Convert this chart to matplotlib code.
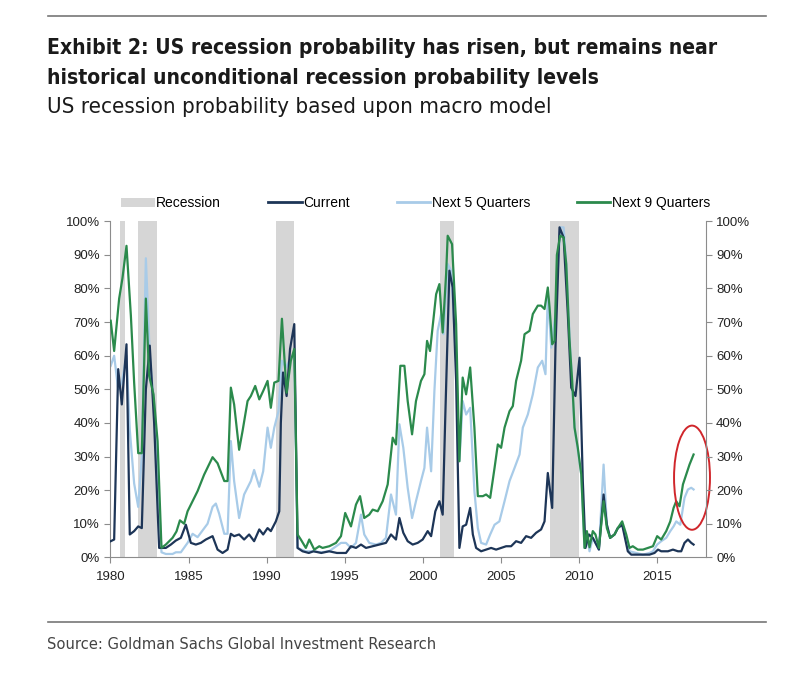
import matplotlib
matplotlib.use("Agg")
import matplotlib.pyplot as plt
from matplotlib.patches import Patch, Ellipse
from matplotlib.lines import Line2D

# recession shading (start, end) in fractional years, as drawn in the chart
recessions = [(1980.6, 1980.94), (1981.76, 1982.97), (1990.62, 1991.75),
              (2001.12, 2001.98), (2008.12, 2010.0)]

# Next 9 Quarters
yrs_9q = [1980.02, 1980.24, 1980.56, 1980.77, 1981.03, 1981.31, 1981.52, 1981.78, 1982.01, 1982.27,
          1982.48, 1982.76, 1983.02, 1983.27, 1983.55, 1983.98, 1984.23, 1984.45, 1984.72, 1984.94,
          1985.26, 1985.58, 1986.0, 1986.54, 1986.86, 1987.29, 1987.5, 1987.71, 1987.92, 1988.24,
          1988.46, 1988.78, 1988.99, 1989.27, 1989.53, 1989.78, 1990.06, 1990.27, 1990.49, 1990.76,
          1990.98, 1991.28, 1991.55, 1991.77, 1991.98, 1992.19, 1992.51, 1992.73, 1993.05, 1993.37,
          1993.58, 1994.01, 1994.44, 1994.76, 1995.03, 1995.4, 1995.72, 1995.98, 1996.25, 1996.57,
          1996.79, 1997.11, 1997.43, 1997.75, 1998.07, 1998.28, 1998.56, 1998.82, 1999.03, 1999.31,
          1999.56, 1999.88, 2000.1, 2000.27, 2000.46, 2000.67, 2000.85, 2001.06, 2001.27, 2001.49,
          2001.59, 2001.87, 2002.13, 2002.34, 2002.55, 2002.77, 2003.03, 2003.3, 2003.52, 2003.84,
          2004.05, 2004.31, 2004.59, 2004.8, 2005.01, 2005.23, 2005.55, 2005.76, 2005.97, 2006.29,
          2006.51, 2006.83, 2007.04, 2007.36, 2007.57, 2007.79, 2008.0, 2008.11, 2008.28, 2008.43,
          2008.58, 2008.79, 2009.01, 2009.18, 2009.39, 2009.56, 2009.71, 2009.92, 2010.14, 2010.35,
          2010.5, 2010.67, 2010.88, 2011.05, 2011.27, 2011.57, 2011.78, 2011.99, 2012.27, 2012.48,
          2012.76, 2013.02, 2013.23, 2013.44, 2013.76, 2014.09, 2014.41, 2014.73, 2015.0, 2015.26,
          2015.58, 2015.84, 2016.05, 2016.22, 2016.43, 2016.65, 2016.86, 2017.07, 2017.33]
next_9q = [70.4, 61.4, 77, 83, 92.7, 72, 52, 31, 31, 77,
           54, 48.5, 34.6, 2.8, 3.8, 5.8, 7.7, 11, 10, 13.7,
           16.7, 19.7, 24.6, 29.8, 28, 22.7, 22.7, 50.5, 45.5, 32,
           37.6, 46.5, 48, 51, 47, 49.5, 52.5, 44.5, 52, 52.5,
           71, 49, 58.5, 62, 6.8, 5.3, 2.8, 5.3, 2.3, 3.3,
           2.8, 3.3, 4.3, 6.3, 13.2, 9.2, 15.7, 18.2, 11.7, 12.7,
           14.2, 13.7, 16.7, 21.7, 35.6, 33.6, 57, 57, 46.5, 36.6,
           46.5, 52.5, 54.5, 64.4, 61.4, 70.4, 78.3, 81.3, 66.9, 84.3,
           95.7, 93.2, 69.4, 28.6, 53.5, 48.5, 56.5, 38.6, 18.2, 18.2,
           18.7, 17.7, 26.6, 33.6, 32.6, 38.6, 43.5, 45, 52.5, 58.5,
           66.4, 67.4, 72.4, 74.9, 74.9, 73.9, 80.3, 74.4, 63.4, 64.4,
           90, 95.7, 95.2, 87.3, 64.4, 52.5, 38.6, 32.6, 24.7, 2.8,
           7.8, 3, 7.8, 6.8, 2.8, 16.7, 8.7, 5.8, 6.8, 8.7,
           10.7, 6.8, 2.8, 3.3, 2.3, 2.3, 2.8, 3.3, 6.3, 5.3,
           7.8, 10.7, 14.7, 16.7, 15.2, 21.7, 24.7, 27.6, 30.6]

# Next 5 Quarters
yrs_5q = [1980.02, 1980.24, 1980.5, 1980.73, 1981.03, 1981.24, 1981.52, 1981.78, 1982.01, 1982.27,
          1982.52, 1982.8, 1983.02, 1983.27, 1983.55, 1983.98, 1984.19, 1984.51, 1984.94, 1985.26,
          1985.58, 1985.9, 1986.22, 1986.54, 1986.75, 1986.96, 1987.29, 1987.5, 1987.71, 1987.92,
          1988.24, 1988.56, 1988.99, 1989.2, 1989.53, 1989.78, 1990.06, 1990.27, 1990.49, 1990.76,
          1990.98, 1991.23, 1991.55, 1991.77, 1991.98, 1992.5, 1993.0, 1993.5, 1994.0, 1994.76,
          1995.08, 1995.4, 1995.72, 1996.04, 1996.25, 1996.57, 1997.0, 1997.32, 1997.64, 1997.96,
          1998.28, 1998.5, 1998.75, 1999.03, 1999.31, 1999.56, 1999.88, 2000.1, 2000.27, 2000.53,
          2000.74, 2000.95, 2001.17, 2001.32, 2001.59, 2001.81, 2002.13, 2002.34, 2002.55, 2002.77,
          2003.03, 2003.3, 2003.52, 2003.73, 2004.05, 2004.31, 2004.59, 2004.9, 2005.23, 2005.55,
          2005.87, 2006.19, 2006.4, 2006.72, 2007.04, 2007.36, 2007.64, 2007.85, 2008.0, 2008.22,
          2008.49, 2008.79, 2009.01, 2009.18, 2009.43, 2009.71, 2010.14, 2010.35, 2010.5, 2010.67,
          2010.88, 2011.27, 2011.57, 2011.78, 2011.99, 2012.27, 2012.48, 2012.76, 2013.02, 2013.23,
          2013.66, 2014.09, 2014.51, 2014.73, 2015.0, 2015.26, 2015.58, 2015.84, 2016.05, 2016.22,
          2016.48, 2016.75, 2016.97, 2017.18, 2017.33]
next_5q = [57, 60, 50, 52, 60, 38, 22, 15, 30, 89,
           60, 45, 25, 1.5, 1, 1, 1.5, 1.5, 4.3, 7,
           6, 8, 10, 15, 16, 13, 7, 7, 34.6, 22.7,
           11.7, 18.7, 22.7, 26, 21, 25.6, 38.6, 32.6, 38.6, 43.5,
           58.5, 56.5, 59.4, 60.4, 2.8, 1.8, 1.8, 1.5, 1.8, 4.3,
           4.3, 2.8, 4.3, 12.7, 6.8, 4.3, 3.8, 4.3, 5.8, 18.7,
           12.7, 39.6, 32.6, 20.7, 11.7, 16.7, 22.7, 26.6, 38.6, 25.6,
           49.5, 67.4, 72.4, 66.4, 87.3, 85.3, 58.5, 28.6, 46.5, 42.5,
           44.5, 19.7, 8.7, 4.3, 3.8, 6.8, 9.7, 10.7, 16.7, 22.7,
           26.6, 30.6, 38.6, 42.5, 48.5, 56.5, 58.5, 54.5, 78.3, 62.4,
           72.4, 98.2, 98.2, 87.3, 62.4, 38.6, 24.7, 2.8, 6.8, 1.8,
           5.8, 2.3, 27.6, 9.7, 5.8, 6.8, 8.7, 9.7, 5.8, 1.8,
           1.3, 0.8, 1.3, 1.8, 3.8, 4.8, 5.8, 7.8, 9.2, 10.7,
           9.7, 17.7, 20.2, 20.7, 20.2]

# Current
yrs_cur = [1980.02, 1980.24, 1980.5, 1980.73, 1981.03, 1981.24, 1981.52, 1981.78, 1982.01, 1982.27,
           1982.52, 1982.8, 1983.12, 1983.55, 1983.87, 1984.19, 1984.51, 1984.83, 1985.15, 1985.47,
           1985.79, 1986.11, 1986.54, 1986.86, 1987.18, 1987.5, 1987.71, 1987.92, 1988.24, 1988.56,
           1988.88, 1989.2, 1989.53, 1989.78, 1990.06, 1990.27, 1990.59, 1990.81, 1990.91, 1991.05,
           1991.28, 1991.5, 1991.77, 1991.98, 1992.3, 1992.7, 1993.0, 1993.5, 1994.0, 1994.5,
           1995.08, 1995.4, 1995.72, 1996.04, 1996.36, 1996.79, 1997.22, 1997.64, 1997.96, 1998.28,
           1998.5, 1998.75, 1999.03, 1999.35, 1999.67, 1999.99, 2000.31, 2000.53, 2000.8, 2001.06,
           2001.27, 2001.44, 2001.7, 2001.91, 2002.13, 2002.34, 2002.55, 2002.77, 2003.03, 2003.2,
           2003.41, 2003.73, 2004.05, 2004.37, 2004.69, 2005.01, 2005.33, 2005.65, 2005.97, 2006.29,
           2006.61, 2006.93, 2007.25, 2007.57, 2007.79, 2008.0, 2008.28, 2008.49, 2008.75, 2009.01,
           2009.28, 2009.5, 2009.77, 2010.03, 2010.24, 2010.41, 2010.63, 2010.88, 2011.27, 2011.57,
           2011.78, 2011.99, 2012.27, 2012.48, 2012.76, 2013.12, 2013.34, 2013.66, 2014.09, 2014.51,
           2014.83, 2015.05, 2015.26, 2015.69, 2016.01, 2016.33, 2016.54, 2016.75, 2016.97, 2017.18,
           2017.33]
current = [4.8, 5.3, 56, 45.5, 63.4, 6.8, 7.8, 9.2, 8.7, 50,
           63, 40, 2.8, 2.8, 3.8, 5, 5.8, 9.7, 4.3, 3.8,
           4.3, 5.3, 6.3, 2.3, 1.3, 2.3, 7, 6.3, 6.8, 5.3,
           6.8, 4.8, 8.3, 6.8, 8.7, 7.8, 10.7, 13.7, 40, 55,
           48, 62, 69.4, 2.8, 1.8, 1.3, 1.8, 1.3, 1.8, 1.3,
           1.3, 3.3, 2.8, 3.8, 2.8, 3.3, 3.8, 4.3, 6.8, 5.3,
           11.7, 7.3, 4.8, 3.8, 4.3, 5.3, 7.8, 6.3, 13.7, 16.7,
           12.7, 42.5, 85.3, 80.3, 52.5, 2.8, 9.2, 9.7, 14.7, 6.8,
           2.8, 1.8, 2.3, 2.8, 2.3, 2.8, 3.3, 3.3, 4.8, 4.3,
           6.3, 5.8, 7.3, 8.3, 10.7, 25.1, 14.7, 62.4, 98.2, 95.2,
           72.4, 50.5, 48, 59.4, 22.7, 2.8, 6.8, 5.8, 2.3, 18.7,
           9.7, 5.8, 6.8, 8.7, 9.7, 1.8, 0.8, 0.8, 0.8, 0.8,
           1.3, 2.3, 1.8, 1.8, 2.3, 1.8, 1.8, 4.3, 5.3, 4.3,
           3.8]

c_cur = "#1d3557"
c_5q = "#a8cbe8"
c_9q = "#2b8a4c"
c_rec = "#d6d6d6"
c_axis = "#8c8c8c"

plt.rcParams["font.family"] = ["Liberation Sans", "DejaVu Sans"]

fig = plt.figure(figsize=(8, 6.83), dpi=100)
ax = fig.add_axes([0.138, 0.184, 0.744, 0.492])

for s, e in recessions:
    ax.axvspan(s, e, color=c_rec, lw=0, zorder=0)

ax.plot(yrs_cur, current, color=c_cur, lw=1.6, zorder=3)
ax.plot(yrs_5q, next_5q, color=c_5q, lw=1.6, zorder=2)
ax.plot(yrs_9q, next_9q, color=c_9q, lw=1.6, zorder=4)

ax.set_xlim(1980, 2018.1)
ax.set_ylim(0, 100)
ax.set_xticks(range(1980, 2020, 5))
ax.set_yticks(range(0, 101, 10))
ax.set_yticklabels([f"{v}%" for v in range(0, 101, 10)])
for sp in ["top", "right"]:
    ax.spines[sp].set_visible(False)
for sp in ["left", "bottom"]:
    ax.spines[sp].set_color(c_axis)
ax.tick_params(colors=c_axis, labelcolor="#222222", labelsize=9.5, length=4)
ax.tick_params(axis="x", pad=6)

ax2 = ax.twinx()
ax2.set_ylim(0, 100)
ax2.set_yticks(range(0, 101, 10))
ax2.set_yticklabels([f"{v}%" for v in range(0, 101, 10)])
for sp in ["top", "left", "bottom"]:
    ax2.spines[sp].set_visible(False)
ax2.spines["right"].set_color(c_axis)
ax2.tick_params(colors=c_axis, labelcolor="#222222", labelsize=9.5, length=4)

# red circle highlighting the latest readings
ax.add_patch(Ellipse((2017.23, 23.7), 2.3, 31, fill=False, edgecolor="#d0262b",
                     lw=1.4, zorder=6, clip_on=False))

handles = [Patch(facecolor=c_rec, edgecolor="none"),
           Line2D([], [], color=c_cur, lw=2),
           Line2D([], [], color=c_5q, lw=2),
           Line2D([], [], color=c_9q, lw=2)]
labels = ["Recession", "Current", "Next 5 Quarters", "Next 9 Quarters"]
ax.legend(handles, labels, ncol=4, loc="lower center", bbox_to_anchor=(0.513, 1.012),
          frameon=False, fontsize=10, handlelength=2.4, handletextpad=0.1,
          columnspacing=3.4, borderaxespad=0.1)

cond = dict(family="DejaVu Sans", stretch="condensed")
fig.add_artist(Line2D([0.06, 0.957], [0.977, 0.977], color="#777777", lw=1.2))
fig.text(0.059, 0.93, "Exhibit 2: US recession probability has risen, but remains near",
         fontsize=15.1, fontweight="bold", va="center", color="#1a1a1a", **cond)
fig.text(0.059, 0.886, "historical unconditional recession probability levels",
         fontsize=15.1, fontweight="bold", va="center", color="#1a1a1a", **cond)
fig.text(0.059, 0.843, "US recession probability based upon macro model",
         fontsize=16, va="center", color="#1a1a1a", **cond)

fig.add_artist(Line2D([0.06, 0.957], [0.089, 0.089], color="#777777", lw=1.2))
fig.text(0.059, 0.056, "Source: Goldman Sachs Global Investment Research",
         fontsize=11.8, va="center", color="#444444", **cond)

fig.savefig("out.png", dpi=100)
